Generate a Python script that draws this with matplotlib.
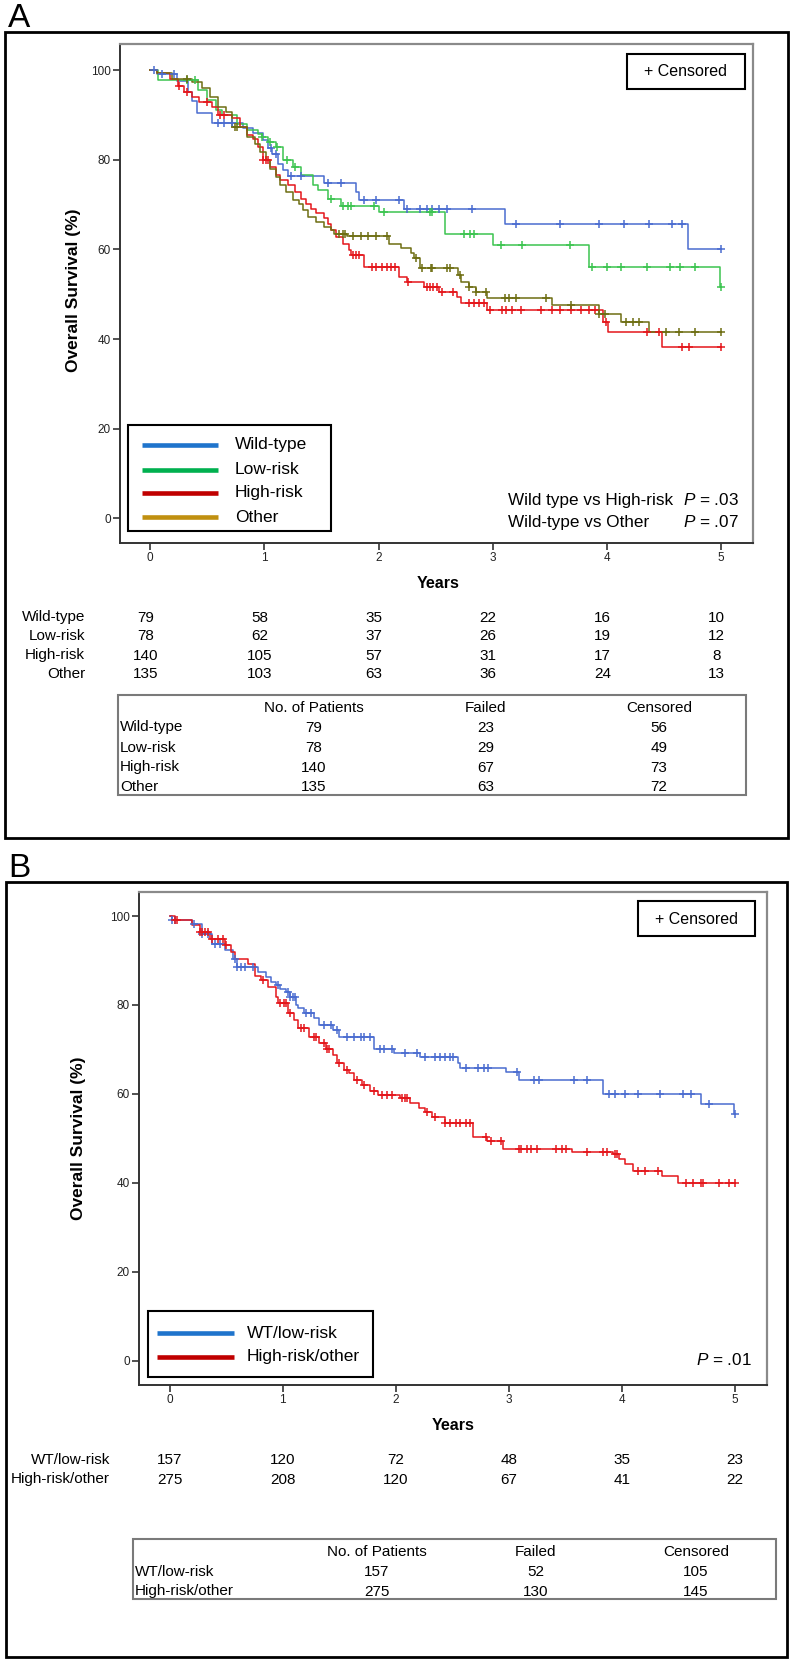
import numpy as np
import matplotlib
matplotlib.use("Agg")
import matplotlib.pyplot as plt
from matplotlib.patches import Rectangle
from matplotlib.lines import Line2D
import matplotlib.transforms as mtransforms

plt.rcParams['font.family'] = ['Liberation Sans', 'DejaVu Sans']
plt.rcParams['mathtext.fontset'] = 'custom'
plt.rcParams['mathtext.it'] = 'Liberation Sans:italic'
plt.rcParams['mathtext.rm'] = 'Liberation Sans'

# ---------------- data: panel A ----------------
wt_t = [0.06, 0.23, 0.33, 0.37, 0.41, 0.54, 0.81, 0.90, 0.99, 1.03, 1.07, 1.12, 1.16, 1.21,
        1.52, 1.80, 1.83, 2.22, 3.11, 4.71]
wt_s = [99.0, 97.5, 95.0, 93.0, 90.5, 88.1, 87.0, 86.0, 84.4, 82.5, 81.2, 79.0, 77.6, 76.4,
        74.7, 72.8, 71.0, 68.9, 65.6, 60.1]
wt_c = [0.035, 0.1, 0.21, 0.59, 0.65, 0.72, 1.06, 1.10, 1.23, 1.32, 1.56, 1.67, 1.87, 1.98,
        2.18, 2.25, 2.36, 2.42, 2.47, 2.53, 2.60, 2.82, 3.20, 3.59, 3.93, 4.15, 4.37, 4.57, 4.66, 5.0]

lr_t = [0.07, 0.42, 0.50, 0.58, 0.63, 0.76, 0.85, 0.94, 0.98, 1.03, 1.10, 1.16, 1.25, 1.32,
        1.43, 1.47, 1.56, 1.67, 2.00, 2.58, 3.00, 3.84, 4.99]
lr_s = [97.8, 95.5, 93.3, 91.0, 90.0, 88.0, 86.6, 85.8, 85.0, 84.0, 82.9, 80.0, 78.4, 76.5,
        74.3, 73.2, 71.3, 69.7, 68.3, 63.5, 60.9, 56.0, 51.6]
lr_c = [0.32, 0.39, 0.98, 1.05, 1.11, 1.20, 1.27, 1.58, 1.69, 1.73, 1.76, 1.96, 2.05, 2.45,
        2.47, 2.75, 2.80, 2.84, 3.07, 3.26, 3.68, 3.87, 4.00, 4.12, 4.35, 4.55, 4.64, 4.77, 5.0]

hr_t = [0.06, 0.17, 0.24, 0.30, 0.37, 0.43, 0.54, 0.59, 0.72, 0.79, 0.85, 0.90, 0.94, 0.99,
        1.05, 1.10, 1.14, 1.21, 1.27, 1.32, 1.36, 1.41, 1.45, 1.52, 1.56, 1.58, 1.63, 1.69,
        1.74, 1.76, 1.87, 2.18, 2.25, 2.40, 2.53, 2.69, 2.72, 2.95, 3.97, 4.01, 4.48]
hr_s = [99.3, 98.1, 96.5, 95.2, 94.0, 92.9, 91.8, 90.0, 89.2, 87.3, 85.5, 84.5, 82.9, 79.9,
        78.4, 76.5, 75.4, 74.3, 72.8, 71.3, 70.2, 69.1, 68.0, 66.9, 65.7, 64.3, 62.8, 61.3,
        59.8, 58.7, 56.0, 53.8, 52.7, 51.6, 50.5, 49.3, 48.0, 46.5, 43.8, 41.6, 38.2]
hr_c = [0.25, 0.32, 0.50, 0.61, 0.65, 0.99, 1.01, 1.03, 1.78, 1.80, 1.83, 1.94, 1.98, 2.03,
        2.07, 2.11, 2.14, 2.26, 2.42, 2.45, 2.48, 2.51, 2.56, 2.65, 2.79, 2.84, 2.88, 2.92,
        2.98, 3.08, 3.12, 3.17, 3.25, 3.42, 3.52, 3.59, 3.69, 3.77, 3.84, 3.90, 3.99, 4.35,
        4.46, 4.66, 4.72, 5.0]

ot_t = [0.06, 0.19, 0.37, 0.45, 0.52, 0.59, 0.66, 0.72, 0.85, 0.92, 0.96, 1.01, 1.05, 1.10,
        1.14, 1.19, 1.25, 1.30, 1.34, 1.38, 1.45, 1.52, 1.58, 1.61, 1.72, 2.09, 2.20, 2.28,
        2.31, 2.36, 2.70, 2.72, 2.79, 2.85, 2.95, 3.52, 3.93, 4.12, 4.37]
ot_s = [99.3, 98.1, 97.4, 95.9, 94.0, 91.8, 90.7, 87.3, 85.1, 83.6, 81.7, 79.9, 78.0, 76.2,
        74.3, 72.8, 71.0, 70.2, 68.7, 67.2, 66.1, 65.0, 64.3, 63.5, 62.9, 61.3, 60.2, 59.1,
        58.0, 55.8, 54.2, 52.7, 51.6, 50.5, 49.2, 47.5, 45.6, 43.8, 41.6]
ot_c = [0.32, 0.74, 0.76, 1.65, 1.69, 1.71, 1.78, 1.85, 1.91, 1.98, 2.07, 2.33, 2.38, 2.46,
        2.47, 2.60, 2.63, 2.71, 2.79, 2.85, 2.94, 3.11, 3.14, 3.20, 3.47, 3.69, 3.93, 3.98,
        4.17, 4.23, 4.28, 4.52, 4.63, 4.77, 5.0]

groups_a = ["Wild-type", "Low-risk", "High-risk", "Other"]
risk_years = [0, 1, 2, 3, 4, 5]
risk_a = [[79, 58, 35, 22, 16, 10],
          [78, 62, 37, 26, 19, 12],
          [140, 105, 57, 31, 17, 8],
          [135, 103, 63, 36, 24, 13]]
summary_cols = ["No. of Patients", "Failed", "Censored"]
summary_a = [[79, 23, 56], [78, 29, 49], [140, 67, 73], [135, 63, 72]]

# ---------------- data: panel B ----------------
wl_t = [0.02, 0.20, 0.29, 0.38, 0.49, 0.56, 0.60, 0.78, 0.85, 0.90, 0.94, 0.98, 1.03, 1.07,
        1.12, 1.14, 1.19, 1.28, 1.32, 1.45, 1.50, 1.81, 1.99, 2.22, 2.55, 2.57, 2.98, 3.09,
        3.83, 4.70, 4.99]
wl_s = [99.0, 98.1, 96.0, 93.8, 92.3, 90.4, 88.5, 87.4, 86.3, 85.2, 84.5, 83.7, 83.0, 81.9,
        80.0, 79.3, 78.1, 77.0, 75.5, 74.3, 72.8, 70.2, 69.1, 68.2, 66.9, 65.8, 65.0, 63.2,
        60.0, 57.8, 55.4]
wl_c = [0.02, 0.045, 0.22, 0.29, 0.34, 0.40, 0.45, 0.58, 0.60, 0.63, 0.67, 0.74, 0.96, 1.05,
        1.07, 1.09, 1.11, 1.21, 1.25, 1.37, 1.43, 1.48, 1.57, 1.63, 1.69, 1.72, 1.77, 1.86,
        1.90, 1.97, 2.08, 2.19, 2.26, 2.35, 2.39, 2.44, 2.48, 2.51, 2.62, 2.73, 2.78, 2.82,
        3.07, 3.22, 3.27, 3.58, 3.69, 3.89, 3.94, 4.03, 4.14, 4.34, 4.54, 4.61, 4.77, 5.0]

ho_t = [0.045, 0.20, 0.27, 0.36, 0.49, 0.54, 0.58, 0.69, 0.76, 0.81, 0.87, 0.94, 0.96, 1.05,
        1.10, 1.14, 1.23, 1.32, 1.38, 1.45, 1.48, 1.54, 1.59, 1.63, 1.70, 1.77, 1.84, 2.04,
        2.13, 2.21, 2.26, 2.32, 2.44, 2.68, 2.81, 2.95, 3.56, 3.92, 3.98, 4.03, 4.10, 4.36, 4.50]
ho_s = [99.0, 97.9, 96.4, 94.9, 93.4, 91.9, 90.4, 89.3, 86.6, 85.5, 84.0, 81.9, 80.4, 78.1,
        76.6, 74.8, 72.9, 71.4, 70.0, 68.8, 66.9, 65.4, 64.6, 63.2, 62.0, 60.6, 59.8, 59.0,
        58.0, 56.8, 56.0, 54.8, 53.5, 50.3, 49.4, 47.7, 47.0, 46.4, 45.3, 44.2, 42.6, 41.5, 40.0]
ho_c = [0.045, 0.07, 0.27, 0.29, 0.31, 0.34, 0.38, 0.43, 0.47, 0.50, 0.83, 0.98, 1.01, 1.03,
        1.07, 1.16, 1.19, 1.28, 1.30, 1.37, 1.39, 1.41, 1.50, 1.57, 1.66, 1.72, 1.81, 1.88,
        1.92, 1.97, 2.06, 2.08, 2.10, 2.28, 2.35, 2.44, 2.48, 2.53, 2.57, 2.62, 2.66, 2.80,
        2.84, 2.93, 3.09, 3.11, 3.16, 3.20, 3.25, 3.42, 3.47, 3.51, 3.69, 3.83, 3.87, 3.94,
        3.96, 4.14, 4.21, 4.32, 4.57, 4.63, 4.70, 4.72, 4.86, 4.95, 5.0]

groups_b = ["WT/low-risk", "High-risk/other"]
risk_b = [[157, 120, 72, 48, 35, 23],
          [275, 208, 120, 67, 41, 22]]
summary_b = [[157, 52, 105], [275, 130, 145]]

# ---------------- styles ----------------
curve_cols_a = ["#4a6cd0", "#3cc450", "#e4161b", "#6e6e12"]
legend_cols_a = ["#1f74cc", "#00b04f", "#c00000", "#c09010"]
curve_cols_b = ["#4a6cd0", "#e4161b"]
legend_cols_b = ["#1f74cc", "#c00000"]

W, H = 791, 1663
fig = plt.figure(figsize=(W / 100, H / 100), dpi=100)


def add_axes_px(l, t, r, b):
    return fig.add_axes([l / W, 1 - b / H, (r - l) / W, (b - t) / H])


def km(ax, times, surv, cens, color):
    x = np.array([0.0] + list(times) + [5.0])
    y = np.array([100.0] + list(surv) + [surv[-1]])
    ax.step(x, y, where="post", color=color, lw=1.1, zorder=3)
    c = np.array(cens)
    idx = np.searchsorted(x[:-1], c, side="right") - 1
    ax.plot(c, y[idx], linestyle="none", marker="+", ms=6, mew=1.1, color=color, zorder=4)


def style_axes(ax, xlim, ylim):
    ax.set_xlim(*xlim)
    ax.set_ylim(*ylim)
    ax.set_xticks(risk_years)
    ax.set_yticks([0, 20, 40, 60, 80, 100])
    ax.tick_params(direction="out", length=5, width=1.1, labelsize=8.5, pad=1.5, colors="#222222")
    for s in ["left", "bottom"]:
        ax.spines[s].set_color("#333333")
        ax.spines[s].set_linewidth(1.4)
    for s in ["top", "right"]:
        ax.spines[s].set_color("#8a8a8a")
        ax.spines[s].set_linewidth(1.6)


# overlay in pixel coordinates
ov = fig.add_axes([0, 0, 1, 1], zorder=10)
ov.set_xlim(0, W)
ov.set_ylim(H, 0)
ov.axis("off")


def rect(l, t, r, b, ec="black", lw=1.5):
    ov.add_patch(Rectangle((l, t), r - l, b - t, fill=False, ec=ec, lw=lw))


# ================= Panel A =================
axA = add_axes_px(120, 44, 753, 543)
for (t, s, c), col in zip([(wt_t, wt_s, wt_c), (lr_t, lr_s, lr_c), (hr_t, hr_s, hr_c),
                           (ot_t, ot_s, ot_c)], curve_cols_a):
    km(axA, t, s, c, col)
style_axes(axA, (-0.265, 5.28), (-5.5, 105.8))
axA.set_xlabel("Years", fontsize=11.5, fontweight="bold")
axA.xaxis.set_label_coords(0.502, -0.066)
axA.set_ylabel("Overall Survival (%)", fontsize=12.5, fontweight="bold")
axA.yaxis.set_label_coords(-0.062, 0.506)

ov.text(8, 27, "A", fontsize=24, ha="left", va="baseline")
rect(5, 32, 788, 838, lw=2)
rect(627, 54, 745, 89, lw=1.5)
ov.text(686, 72, "+ Censored", fontsize=11.5, ha="center", va="center")

# legend A
rect(128, 425, 331, 531, lw=1.5)
for i, (g, col) in enumerate(zip(groups_a, legend_cols_a)):
    yy = [445, 470, 493, 517][i]
    ov.add_line(Line2D([142, 218], [yy, yy], color=col, lw=3.3, solid_capstyle="butt"))
    ov.text(235, yy, g, fontsize=12.5, ha="left", va="center")

ov.text(508, 500, "Wild type vs High-risk", fontsize=12.3, ha="left", va="center")
ov.text(683, 500, r"$\it{P}$ = .03", fontsize=12.3, ha="left", va="center")
ov.text(508, 522, "Wild-type vs Other", fontsize=12.3, ha="left", va="center")
ov.text(683, 522, r"$\it{P}$ = .07", fontsize=12.3, ha="left", va="center")

trA = mtransforms.blended_transform_factory(axA.transData, ov.transData)
for i, g in enumerate(groups_a):
    yb = [616, 635, 654, 673][i] + 5.5
    ov.text(85, yb, g, fontsize=11, ha="right", va="baseline")
    for yr, v in zip(risk_years, risk_a[i]):
        ov.text(yr - 0.04, yb, str(v), fontsize=11, ha="center", va="baseline", transform=trA)

rect(118, 695, 746, 795, ec="#7a7a7a", lw=1.5)
for cx, name in zip([314, 486, 659], summary_cols):
    ov.text(cx, 712, name, fontsize=11, ha="center", va="baseline")
for i, g in enumerate(groups_a):
    yb = [731.5, 752, 771.5, 791][i]
    ov.text(120, yb, g, fontsize=11, ha="left", va="baseline")
    for cx, v in zip([314, 486, 659], summary_a[i]):
        ov.text(cx, yb, str(v), fontsize=11, ha="center", va="baseline")

# ================= Panel B =================
axB = add_axes_px(139, 892, 767, 1385)
for (t, s, c), col in zip([(wl_t, wl_s, wl_c), (ho_t, ho_s, ho_c)], curve_cols_b):
    km(axB, t, s, c, col)
style_axes(axB, (-0.27, 5.285), (-5.46, 105.4))
axB.set_xlabel("Years", fontsize=11.5, fontweight="bold")
axB.xaxis.set_label_coords(0.5, -0.066)
axB.set_ylabel("Overall Survival (%)", fontsize=12.5, fontweight="bold")
axB.yaxis.set_label_coords(-0.085, 0.5)

ov.text(8, 877, "B", fontsize=24, ha="left", va="baseline")
rect(6, 882, 787, 1657, lw=2)
rect(638, 901, 755, 936, lw=1.5)
ov.text(696.5, 919, "+ Censored", fontsize=11.5, ha="center", va="center")

rect(148, 1311, 373, 1377, lw=1.5)
for i, (g, col) in enumerate(zip(groups_b, legend_cols_b)):
    yy = [1333, 1357][i]
    ov.add_line(Line2D([157, 234], [yy, yy], color=col, lw=3.3, solid_capstyle="butt"))
    ov.text(246.5, yy, g, fontsize=12.5, ha="left", va="center")
ov.text(751.5, 1360, r"$\it{P}$ = .01", fontsize=12.3, ha="right", va="center")

trB = mtransforms.blended_transform_factory(axB.transData, ov.transData)
for i, g in enumerate(groups_b):
    yb = [1458, 1478][i] + 5.5
    ov.text(110, yb, g, fontsize=11, ha="right", va="baseline")
    for yr, v in zip(risk_years, risk_b[i]):
        ov.text(yr, yb, str(v), fontsize=11, ha="center", va="baseline", transform=trB)

rect(133, 1539, 776, 1599, ec="#7a7a7a", lw=1.5)
for cx, name in zip([377, 536, 696], summary_cols):
    ov.text(cx, 1556, name, fontsize=11, ha="center", va="baseline")
for i, g in enumerate(groups_b):
    yb = [1576, 1595.5][i]
    ov.text(135, yb, g, fontsize=11, ha="left", va="baseline")
    for cx, v in zip([377, 536, 696], summary_b[i]):
        ov.text(cx, yb, str(v), fontsize=11, ha="center", va="baseline")

fig.savefig("out.png", dpi=100)
